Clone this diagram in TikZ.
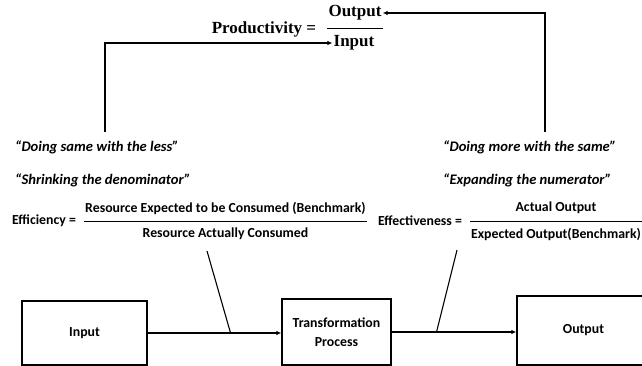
\documentclass[tikz,border=0pt]{standalone}
\usepackage{fontspec}
\usepackage{tikz}
\usetikzlibrary{positioning, arrows.meta, calc}
\setmainfont{Carlito}
\newfontfamily\ratiofont{Liberation Serif}

\begin{document}
\begin{tikzpicture}[
    x=1pt, y=-1pt,
    % Node styles
    stagebox/.style={
        rectangle, draw=black, fill=white, line width=1.3pt,
        font=\fontsize{13.8}{19}\selectfont\bfseries, align=center
    },
    termnode/.style={
        inner sep=1pt, font=\fontsize{13.8}{16}\selectfont\bfseries
    },
    prodnode/.style={
        inner sep=1pt, font=\fontsize{17}{19}\selectfont\ratiofont\bfseries
    },
    quotenode/.style={
        anchor=west, inner sep=0pt,
        font=\fontsize{14.6}{17}\selectfont\bfseries\itshape
    },
    % Edge styles
    flow/.style={
        -{Latex[length=5pt, width=4.5pt]}, line width=1.3pt
    },
    link/.style={line width=1.1pt},
    fracbar/.style={line width=1pt}
]
\clip (0,0) rectangle (642,366);

% ============ PRODUCTIVITY ============
\node[prodnode] (prod) at (264,29) {Productivity =};
\node[prodnode] (pout) at (355,13) {Output};
\node[prodnode] (pin) at (354,43) {Input};
\coordinate (pmid) at ($(pout.south)!0.5!(pin.north)$);
\draw[fracbar] (pmid -| pout.west) -- (pmid -| pout.east);

% ============ SLOGANS ============
\node[quotenode] (q1) at (15,147) {``Doing same with the less''};
\node[quotenode] (q2) at (15,180) {``Shrinking the denominator''};
\node[quotenode] (q3) at (443,147) {``Doing more with the same''};
\node[quotenode] (q4) at (443,180) {``Expanding the numerator''};

% ============ EFFICIENCY ============
\node[termnode] (effc) at (44,221) {Efficiency =};
\node[termnode] (enum) at (225.5,208) {Resource Expected to be Consumed (Benchmark)};
\node[termnode] (eden) at (225.5,234) {Resource Actually Consumed};
\coordinate (emid) at (225.5,221);
\draw[fracbar] (emid -| enum.west) -- (emid -| enum.east);

% ============ EFFECTIVENESS ============
\node[termnode] (effv) at (420,221) {Effectiveness =};
\node[termnode] (vnum) at (556,208) {Actual Output};
\node[termnode] (vden) at (556,234) {Expected Output(Benchmark)};
\coordinate (vmid) at (556,221);
\draw[fracbar] (vmid -| vden.west) -- (vmid -| vden.east);

% ============ PROCESS CHAIN ============
\node[stagebox, minimum width=125pt, minimum height=64pt] (in) at (84.5,333) {Input};
\node[stagebox, minimum width=109pt, minimum height=66pt] (tp) at (336.5,332) {Transformation\\Process};
\node[stagebox, minimum width=133pt, minimum height=69pt] (out) at (583.5,330.5) {Output};

% ============ EDGES ============
\draw[flow] (in.east) -- (in.east -| tp.west);
\draw[flow] (tp.east) -- (tp.east -| out.west);

% links from the ratios down to the chain
\coordinate (j1) at ($(in.east)!0.62!(in.east -| tp.west)$);
\coordinate (e1) at (207,251);
\draw[link] (e1) -- (j1);
\coordinate (j2) at ($(tp.east)!0.36!(tp.east -| out.west)$);
\coordinate (e2) at (457,250);
\draw[link] (e2) -- (j2);

% feedback into the productivity ratio
\coordinate (lstart) at (105,132);
\coordinate (rstart) at (545,132);
\draw[flow] (lstart) |- (pin.west);
\draw[flow] (rstart) |- (pout.east);

\end{tikzpicture}
\end{document}
